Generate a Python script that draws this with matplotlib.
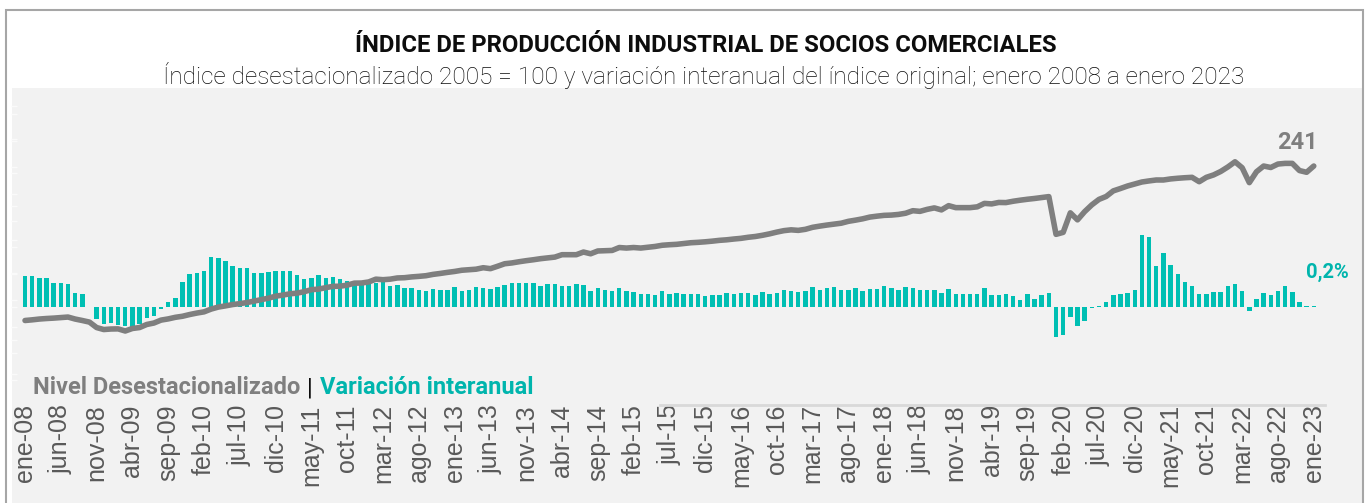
import matplotlib
matplotlib.use("Agg")
import matplotlib.pyplot as plt
import numpy as np
from matplotlib.lines import Line2D
from matplotlib.patches import Rectangle
from matplotlib.offsetbox import TextArea, HPacker, AnnotationBbox

plt.rcParams['font.family'] = ['Roboto', 'DejaVu Sans']

# Nivel desestacionalizado (2005 = 100), enero 2008 a enero 2023
level = [
    124.8, 125.3, 125.9, 126.3, 126.6, 127.0, 127.4, 125.9, 124.8, 123.6, 119.5, 118.0,
    118.4, 118.5, 116.9, 118.8, 119.5, 121.8, 122.9, 125.1, 126.0, 127.2, 128.0, 129.3,
    130.4, 131.3, 133.4, 134.9, 135.8, 136.8, 137.5, 138.3, 139.4, 140.5, 141.6, 143.1,
    143.9, 144.9, 145.4, 146.5, 148.0, 148.4, 149.5, 150.5, 150.6, 151.4, 152.9, 153.0,
    153.8, 155.9, 155.5, 155.9, 156.8, 157.0, 157.6, 158.0, 158.5, 159.5, 160.2, 161.0,
    161.7, 162.6, 163.0, 163.4, 164.5, 163.8, 165.6, 167.5, 168.1, 169.0, 169.8, 170.5,
    171.3, 171.9, 172.5, 174.3, 174.3, 174.3, 176.3, 175.0, 177.1, 177.3, 177.5, 179.7,
    179.3, 179.7, 179.3, 179.9, 180.5, 181.4, 181.8, 182.1, 182.7, 183.3, 183.6, 184.0,
    184.5, 185.1, 185.5, 186.1, 186.6, 187.4, 188.0, 188.9, 190.0, 191.3, 192.4, 193.0,
    192.6, 193.4, 194.9, 195.8, 196.6, 197.3, 198.0, 199.4, 200.3, 201.3, 202.6, 203.3,
    203.9, 204.1, 204.6, 205.5, 207.4, 206.9, 208.4, 209.5, 208.0, 211.2, 209.7, 209.7,
    209.7, 210.3, 212.9, 212.5, 213.6, 213.5, 214.5, 215.3, 216.0, 216.6, 217.3, 218.0,
    189.6, 191.1, 205.8, 200.5, 206.7, 211.8, 215.9, 218.1, 222.3, 224.1, 226.0, 227.5,
    229.0, 229.8, 230.5, 230.5, 231.3, 231.8, 232.2, 232.5, 229.2, 232.5, 234.3, 236.9,
    240.3, 244.2, 239.7, 228.5, 236.7, 241.0, 239.9, 242.5, 243.0, 243.0, 237.6, 236.3,
    241.0,
]

# Variación interanual del índice original (%)
yoy = [
    9.1, 9.1, 8.6, 8.6, 7.1, 7.1, 6.7, 3.9, 3.6, -0.2, -3.7, -5.2,
    -5.0, -5.5, -5.8, -6.2, -5.2, -3.3, -2.8, -0.7, 1.4, 2.6, 7.2, 9.6,
    10.1, 10.6, 14.7, 14.4, 13.6, 12.0, 11.4, 11.4, 10.1, 10.1, 10.2, 10.6,
    10.7, 10.6, 9.4, 8.1, 8.4, 9.4, 8.4, 8.7, 8.1, 7.6, 7.2, 6.9,
    6.6, 6.9, 7.9, 6.2, 6.4, 5.6, 5.4, 4.9, 4.7, 5.1, 4.9, 4.9,
    5.7, 4.6, 4.9, 5.9, 5.4, 5.1, 5.7, 6.3, 6.9, 6.9, 6.9, 6.9,
    6.2, 6.6, 6.6, 6.1, 6.1, 6.6, 6.4, 4.6, 5.6, 4.9, 4.6, 5.4,
    4.6, 4.2, 3.8, 3.6, 3.5, 4.6, 3.6, 4.0, 3.6, 3.6, 3.6, 3.1,
    3.4, 3.4, 4.1, 3.7, 3.9, 4.1, 3.3, 4.2, 3.8, 4.0, 4.8, 4.6,
    4.4, 4.7, 5.9, 4.8, 5.4, 5.7, 5.0, 5.0, 5.4, 4.7, 5.2, 5.2,
    6.1, 5.6, 4.9, 5.7, 5.4, 4.9, 4.9, 4.9, 4.1, 5.1, 3.6, 3.6,
    3.6, 3.6, 5.6, 3.4, 3.4, 3.7, 3.1, 2.1, 3.6, 2.3, 3.4, 4.1,
    -9.0, -8.5, -3.0, -5.8, -4.2, -0.5, 0.3, 1.3, 3.3, 3.8, 4.0, 4.8,
    21.4, 20.7, 12.2, 15.9, 12.4, 9.8, 7.2, 6.0, 3.7, 3.7, 4.3, 4.4,
    6.2, 6.8, 4.5, -1.2, 2.3, 4.0, 3.3, 4.5, 6.0, 4.2, 1.5, 0.3,
    0.2,
]

tick_labels = [
    'ene-08', 'jun-08', 'nov-08', 'abr-09', 'sep-09', 'feb-10', 'jul-10', 'dic-10',
    'may-11', 'oct-11', 'mar-12', 'ago-12', 'ene-13', 'jun-13', 'nov-13', 'abr-14',
    'sep-14', 'feb-15', 'jul-15', 'dic-15', 'may-16', 'oct-16', 'mar-17', 'ago-17',
    'ene-18', 'jun-18', 'nov-18', 'abr-19', 'sep-19', 'feb-20', 'jul-20', 'dic-20',
    'may-21', 'oct-21', 'mar-22', 'ago-22', 'ene-23',
]

title = 'ÍNDICE DE PRODUCCIÓN INDUSTRIAL DE SOCIOS COMERCIALES'
subtitle = ('Índice desestacionalizado 2005 = 100 y variación interanual del índice '
            'original; enero 2008 a enero 2023')

gray = '#7f7f7f'
teal = '#00BFB3'

W, H = 1370, 503
fig = plt.figure(figsize=(W / 100, H / 100), dpi=100)
fig.patch.set_facecolor('white')

# panel and frame
fig.add_artist(Rectangle((12 / W, 0), (1362 - 12) / W, (H - 88) / H,
                         transform=fig.transFigure, facecolor='#f2f2f2',
                         edgecolor='none', zorder=0))
fig.add_artist(Rectangle((6 / W, -0.02), (1363 - 6) / W, (H - 10) / H + 0.02,
                         transform=fig.transFigure, fill=False,
                         edgecolor='#a6a6a6', lw=1.5, zorder=0))
fig.add_artist(Line2D([660 / W, 1325 / W], [1 - 405 / H] * 2,
                      color='#d9d9d9', lw=2, zorder=1))

ax = fig.add_axes([17 / W, 1 - 400 / H, (1322 - 17) / W, (400 - 88) / H])
ax.set_facecolor('none')
x = np.arange(len(yoy))

ax.bar(x, yoy, width=0.62, color=teal, zorder=2)
ax.set_ylim(-27.9, 65.25)
ax.set_xlim(-1.12, 181.15)
ax.set_yticks(np.arange(-20, 61, 10))
ax.yaxis.tick_right()

ax2 = ax.twinx()
ax2.plot(x, level, color=gray, lw=4, solid_joinstyle='round', solid_capstyle='round')
ax2.set_ylim(65.0, 299.7)
ax2.set_yticks(np.arange(80, 300, 20))
ax2.yaxis.tick_left()

for a in (ax, ax2):
    for s in a.spines.values():
        s.set_visible(False)
    a.tick_params(axis='y', length=4, width=1, color='#fafafa',
                  labelleft=False, labelright=False)

ax.set_xticks(x[::5])
ax.set_xticklabels(tick_labels, rotation=90, fontsize=18, color='#595959',
                   family=['Liberation Sans', 'DejaVu Sans'])
ax.tick_params(axis='x', length=0, pad=3)

# end labels
ax2.annotate(f'{level[-1]:.0f}', xy=(x[-1], level[-1]), xytext=(-12, 17),
             textcoords='offset points', ha='center', va='center',
             fontsize=17, fontweight='bold', color=gray, annotation_clip=False)
ax2.annotate(f'{yoy[-1]:.1f}%'.replace('.', ','),
             xy=(x[-1], yoy[-1] * (299.7 - 65.0) / (65.25 + 27.9)),
             xycoords=ax.transData, xytext=(10, 23),
             textcoords='offset points', ha='center', va='center',
             fontsize=14.5, fontweight='bold', color='#00B5AD', annotation_clip=False)

# title and subtitle
fig.text(706 / W, 1 - 45 / H, title, ha='center', va='center', fontsize=17.2,
         fontweight='bold', color='#0d0d0d')
fig.text(704 / W, 1 - 76 / H, subtitle, ha='center', va='center', fontsize=17.6,
         fontweight='light', color='#0d0d0d')

# legend line
pack = HPacker(children=[
    TextArea('Nivel Desestacionalizado',
             textprops=dict(color=gray, fontsize=17, fontweight='bold')),
    TextArea('|', textprops=dict(color='#0d0d0d', fontsize=17)),
    TextArea('Variación interanual',
             textprops=dict(color='#00B5AD', fontsize=17, fontweight='bold')),
], sep=5, align='baseline', pad=0)
ab = AnnotationBbox(pack, (33 / W, 1 - 388 / H), xycoords='figure fraction',
                    box_alignment=(0, 0.5), frameon=False, pad=0,
                    annotation_clip=False)
ax2.add_artist(ab)

fig.savefig('out.png', dpi=100, facecolor=fig.get_facecolor())
